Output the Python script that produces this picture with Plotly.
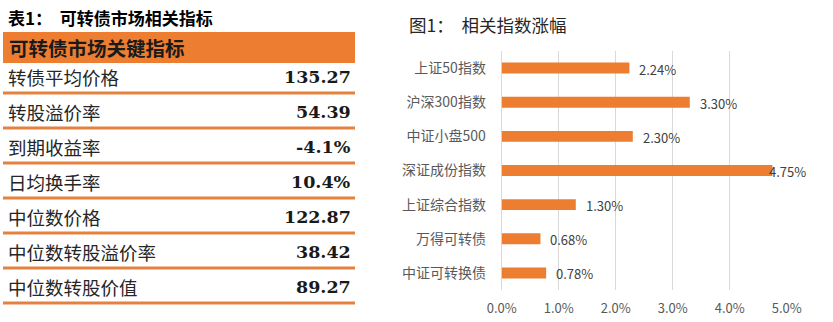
import plotly.graph_objects as go

W, H = 833, 322

# ---- 表1: 可转债市场相关指标 ----
table_title = "表1：  可转债市场相关指标"
table_header = "可转债市场关键指标"
metric_names = ["转债平均价格", "转股溢价率", "到期收益率", "日均换手率",
                "中位数价格", "中位数转股溢价率", "中位数转股价值"]
metric_values = ["135.27", "54.39", "-4.1%", "10.4%", "122.87", "38.42", "89.27"]

# ---- 图1: 相关指数涨幅 ----
chart_title = "图1：  相关指数涨幅"
index_names = ["上证50指数", "沪深300指数", "中证小盘500", "深证成份指数",
               "上证综合指数", "万得可转债", "中证可转换债"]
index_changes = [2.24, 3.30, 2.30, 4.75, 1.30, 0.68, 0.78]
x_ticks = [0, 1, 2, 3, 4, 5]

ORANGE = "#ED7D31"
LINE_ORANGE = "#E5813F"
CJK = "Noto Sans CJK SC"

fig = go.Figure()

# bar chart
fig.add_trace(go.Bar(
    x=index_changes, y=index_names, orientation="h",
    marker=dict(color=ORANGE, line=dict(width=0)),
    width=0.32, hoverinfo="skip", showlegend=False,
    xaxis="x", yaxis="y",
))

# invisible anchor trace for the table axes
fig.add_trace(go.Scatter(
    x=[0] * len(metric_names), y=list(range(len(metric_names))),
    mode="markers", marker=dict(opacity=0), hoverinfo="skip",
    showlegend=False, xaxis="x2", yaxis="y2",
))

annotations = []
shapes = []

# value labels next to bars
for name, v in zip(index_names, index_changes):
    at_edge = v > 4.5
    annotations.append(dict(
        x=v, y=name, xref="x", yref="y",
        text=f"{v:.2f}%", showarrow=False,
        xanchor="left", yanchor="middle",
        xshift=-5 if at_edge else 8, yshift=-1,
        font=dict(family=CJK, size=13, color="#404040"),
    ))

# chart title
annotations.append(dict(
    x=407 / W, y=1 - 25 / H, xref="paper", yref="paper",
    text=chart_title, showarrow=False, xanchor="left", yanchor="middle",
    font=dict(family=CJK, size=17.5, color="#262626"),
))

# table title
annotations.append(dict(
    x=6 / W, y=1 - 17 / H, xref="paper", yref="paper",
    text=f"<b>{table_title}</b>", showarrow=False, xanchor="left", yanchor="middle",
    font=dict(family=CJK, size=17, color="#000000"),
))

# table header band
shapes.append(dict(
    type="rect", xref="x2", yref="y2", x0=3, x1=355, y0=-1.243, y1=-0.357,
    fillcolor=ORANGE, line=dict(width=0), layer="below",
))
annotations.append(dict(
    x=7, y=-0.80, xref="x2", yref="y2",
    text=f"<b>{table_header}</b>", showarrow=False, xanchor="left", yanchor="middle",
    font=dict(family=CJK, size=19.5, color="#1a1a1a"),
))

# table rows
for i, (name, val) in enumerate(zip(metric_names, metric_values)):
    annotations.append(dict(
        x=6, y=i + 0.05, xref="x2", yref="y2",
        text=name, showarrow=False, xanchor="left", yanchor="middle",
        font=dict(family=CJK, size=18.5, color="#262626"),
    ))
    annotations.append(dict(
        x=353, y=i + 0.05, xref="x2", yref="y2",
        text=f"<b>{val}</b>", showarrow=False, xanchor="right", yanchor="middle",
        font=dict(family="DejaVu Serif", size=17.5, color="#1a1a1a"),
    ))
    shapes.append(dict(
        type="line", xref="x2", yref="y2", x0=3, x1=355, y0=i + 0.5, y1=i + 0.5,
        line=dict(color=LINE_ORANGE, width=3),
    ))

fig.update_layout(
    template="none",
    width=W, height=H, autosize=False,
    margin=dict(l=0, r=0, t=0, b=0, pad=0, autoexpand=False),
    paper_bgcolor="white", plot_bgcolor="white",
    showlegend=False,
    xaxis=dict(
        domain=[501.7 / W, 786.7 / W], range=[0, 5], anchor="y",
        tickvals=x_ticks, ticktext=[f"{t:.1f}%" for t in x_ticks],
        showgrid=True, gridcolor="#D9D9D9", gridwidth=1,
        zeroline=True, zerolinecolor="#D9D9D9", zerolinewidth=1,
        showline=False, ticks="outside", ticklen=6, tickcolor="rgba(0,0,0,0)",
        tickfont=dict(family=CJK, size=13, color="#595959"),
        automargin=False, fixedrange=True,
    ),
    yaxis=dict(
        domain=[1 - 290 / H, 1 - 51 / H], anchor="x",
        type="category", categoryorder="array", categoryarray=index_names,
        autorange="reversed", showgrid=False, zeroline=False, showline=False,
        ticks="outside", ticklen=12, tickcolor="rgba(0,0,0,0)",
        tickfont=dict(family=CJK, size=14, color="#595959"),
        automargin=False, fixedrange=True,
    ),
    xaxis2=dict(domain=[0, 360 / W], range=[0, 360], anchor="y2", visible=False,
                automargin=False, fixedrange=True),
    yaxis2=dict(domain=[0, 1], range=[7.043, -2.157], anchor="x2", visible=False,
                automargin=False, fixedrange=True),
    annotations=annotations,
    shapes=shapes,
)

# page body without default margins so the figure fills the window exactly
fig.write_html(
    "out.html",
    config={"displayModeBar": False},
    post_script="document.body.style.margin='0';document.body.style.overflow='hidden';",
)
